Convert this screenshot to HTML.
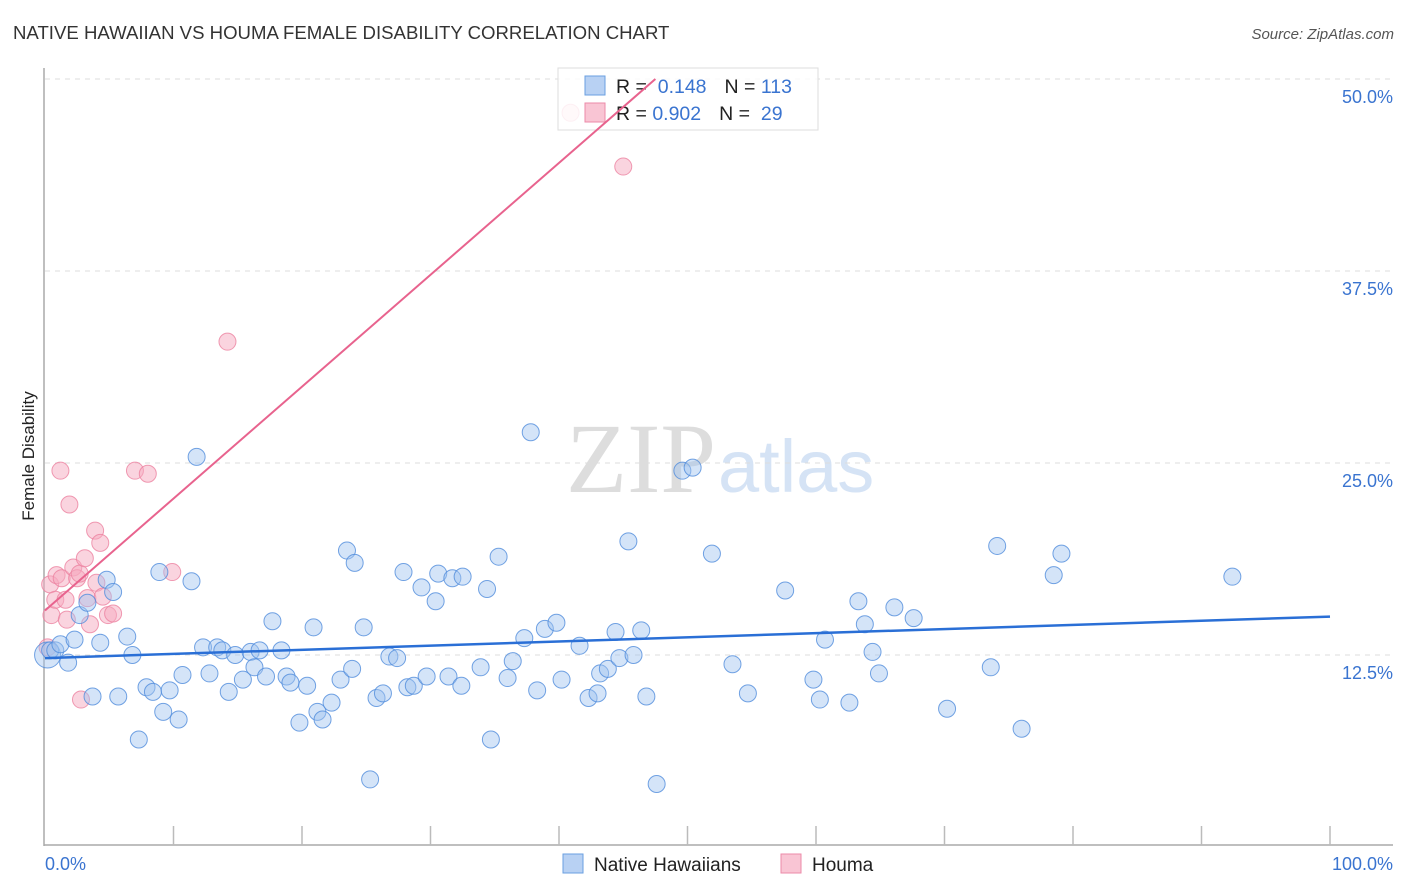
<!DOCTYPE html>
<html><head><meta charset="utf-8">
<style>
body{margin:0;background:#fff;font-family:"Liberation Sans",sans-serif;}
svg{display:block}
</style></head>
<body>
<svg id="chart" width="1406" height="892" xmlns="http://www.w3.org/2000/svg">
<text x="13" y="39" font-size="18.6" fill="#333">NATIVE HAWAIIAN VS HOUMA FEMALE DISABILITY CORRELATION CHART</text>
<text x="1394" y="39" font-size="15" fill="#555" font-style="italic" text-anchor="end">Source: ZipAtlas.com</text>
<text x="716" y="492" font-size="100" fill="#ddd" font-family="Liberation Serif,serif" text-anchor="end">ZIP</text>
<text x="718" y="492" font-size="74" fill="#d5e3f5">atlas</text>
<g id="grid"></g>
<g id="axes"></g>
<g id="pinkpts"></g>
<g id="bluepts"></g>
<g>
<rect x="558" y="68" width="260" height="62" fill="rgba(255,255,255,0.85)" stroke="#ddd"/>
<rect x="585" y="76" width="20" height="19" fill="#b8d1f3" stroke="#6a9fe0"/>
<rect x="585" y="103" width="20" height="19" fill="#f9c5d4" stroke="#ec8aa8"/>
<text x="616" y="93" font-size="19.5" fill="#222">R = <tspan fill="#3a74d0">&#160;0.148</tspan><tspan dx="18">N = </tspan><tspan fill="#3a74d0">113</tspan></text>
<text x="616" y="120" font-size="19.5" fill="#222">R = <tspan fill="#3a74d0">0.902</tspan><tspan dx="18">N = </tspan><tspan fill="#3a74d0">&#160;29</tspan></text>
</g>
<g id="lines"></g>
<text transform="translate(34,456) rotate(-90)" font-size="17" fill="#222" text-anchor="middle">Female Disability</text>
<g>
<rect x="563" y="854" width="20" height="19" fill="#b8d1f3" stroke="#6a9fe0"/>
<text x="594" y="871" font-size="19" fill="#222">Native Hawaiians</text>
<rect x="781" y="854" width="20" height="19" fill="#f9c5d4" stroke="#ec8aa8"/>
<text x="812" y="871" font-size="19" fill="#222">Houma</text>
</g>
</svg>
<script>
const blueX=[0.2,0.4,0.8,1.2,1.8,2.3,2.7,3.3,3.7,4.3,4.8,5.3,5.7,6.4,6.8,7.3,7.9,8.4,8.9,9.2,9.7,10.4,10.7,11.4,11.8,12.3,12.8,13.4,13.8,14.3,14.8,15.4,16.0,16.3,16.7,17.2,17.7,18.4,18.8,19.1,19.8,20.4,20.9,21.2,21.6,22.3,23.0,23.5,23.9,24.1,24.8,25.3,25.8,26.3,26.8,27.4,27.9,28.2,28.7,29.3,29.7,30.4,30.6,31.4,31.7,32.4,32.5,33.9,34.4,34.7,35.3,36.0,36.4,37.3,37.8,38.3,38.9,39.8,40.2,41.6,42.3,43.0,43.2,43.8,44.4,44.7,45.4,45.8,46.4,46.8,47.6,49.6,50.4,51.9,53.5,54.7,57.6,59.8,60.3,60.7,62.6,63.3,63.8,64.4,64.9,66.1,67.6,70.2,73.6,74.1,76.0,78.5,79.1,92.4];
const blueY=[12.5,12.8,12.8,13.2,12.0,13.5,15.1,15.9,9.8,13.3,17.4,16.6,9.8,13.7,12.5,7.0,10.4,10.1,17.9,8.8,10.2,8.3,11.2,17.3,25.4,13.0,11.3,13.0,12.8,10.1,12.5,10.9,12.7,11.7,12.8,11.1,14.7,12.8,11.1,10.7,8.1,10.5,14.3,8.8,8.3,9.4,10.9,19.3,11.6,18.5,14.3,4.4,9.7,10.0,12.4,12.3,17.9,10.4,10.5,16.9,11.1,16.0,17.8,11.1,17.5,10.5,17.6,11.7,16.8,7.0,18.9,11.0,12.1,13.6,27.0,10.2,14.2,14.6,10.9,13.1,9.7,10.0,11.3,11.6,14.0,12.3,19.9,12.5,14.1,9.8,4.1,24.5,24.7,19.1,11.9,10.0,16.7,10.9,9.6,13.5,9.4,16.0,14.5,12.7,11.3,15.6,14.9,9.0,11.7,19.6,7.7,17.7,19.1,17.6];
const pinkX=[0.2,0.4,0.5,0.8,0.9,1.2,1.3,1.6,1.7,1.9,2.2,2.5,2.7,3.1,3.3,3.5,3.9,4.0,4.3,4.5,4.9,5.3,2.8,7.0,8.0,9.9,14.2,45.0,40.9];
const pinkY=[13.0,17.1,15.1,16.1,17.7,24.5,17.5,16.1,14.8,22.3,18.2,17.5,17.8,18.8,16.2,14.5,20.6,17.2,19.8,16.3,15.1,15.2,9.6,24.5,24.3,17.9,32.9,44.3,47.8];
const blueTrend=[12.3,15.0];
const pinkTrend=[15.4,50.0];
const pinkTrendEndX=47.5;
const yTicks=[12.5,25.0,37.5,50.0];
const xTickLabels=["0.0%","100.0%"];

const NS="http://www.w3.org/2000/svg";
const X0=45,X1=1330,Y0=847,PXPER=192/12.5;
const sx=v=>X0+(X1-X0)*v/100;
const sy=v=>Y0-v*PXPER;
function mk(tag,attrs,parent){const e=document.createElementNS(NS,tag);for(const k in attrs)e.setAttribute(k,attrs[k]);parent.appendChild(e);return e;}
const grid=document.getElementById('grid'),axes=document.getElementById('axes');
yTicks.forEach(t=>{
  const l=mk('line',{x1:45,x2:1393,y1:sy(t),y2:sy(t),stroke:'#ddd','stroke-dasharray':'5,5'},grid);
  
  
  const tx=mk('text',{x:1393,y:sy(t)+24,'font-size':18,fill:'#3a74d0','text-anchor':'end'},grid);
  tx.textContent=t.toFixed(1)+'%';
  
  
});
const la=mk('line',{x1:44,x2:44,y1:68,y2:846,stroke:'#aaa','stroke-width':1.5},axes);


const ba=mk('line',{x1:44,x2:1393,y1:845,y2:845,stroke:'#aaa','stroke-width':1.5},axes);


for(let i=1;i<=10;i++){
  const t=mk('line',{x1:sx(i*10),x2:sx(i*10),y1:826,y2:845,stroke:'#bbb','stroke-width':1.5},axes);
  
  
}
const xl0=mk('text',{x:45,y:870,'font-size':18,fill:'#3a74d0'},axes);
xl0.textContent=xTickLabels[0];


const xl1=mk('text',{x:1393,y:870,'font-size':18,fill:'#3a74d0','text-anchor':'end'},axes);
xl1.textContent=xTickLabels[1];



const bp=document.getElementById('bluepts'),pp=document.getElementById('pinkpts');
pinkX.forEach((x,i)=>{
  const c=mk('circle',{cx:sx(x),cy:sy(pinkY[i]),r:8.5,fill:'rgba(246,170,192,0.5)',stroke:'rgba(236,130,160,0.8)','stroke-width':1},pp);
  
  
});
blueX.forEach((x,i)=>{
  const c=mk('circle',{cx:sx(x),cy:sy(blueY[i]),r:i===0?13:8.5,fill:'rgba(160,195,240,0.45)',stroke:'rgba(80,140,220,0.8)','stroke-width':1},bp);
  
  
});
const ln=document.getElementById('lines');
const bl=mk('line',{x1:sx(0),y1:sy(blueTrend[0]),x2:sx(100),y2:sy(blueTrend[1]),stroke:'#2a6fd6','stroke-width':2.5},ln);


const pl=mk('line',{x1:sx(0),y1:sy(pinkTrend[0]),x2:sx(pinkTrendEndX),y2:sy(pinkTrend[1]),stroke:'#e8638e','stroke-width':2},ln);


</script>
</body></html>
